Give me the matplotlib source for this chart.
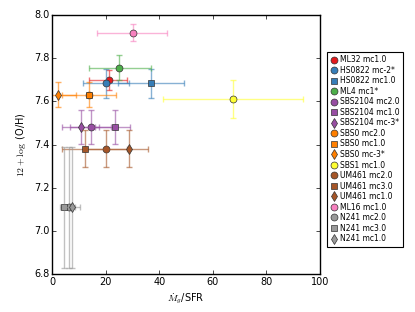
import numpy as np
import matplotlib
matplotlib.use("Agg")
import matplotlib.pyplot as plt

# ---------- data ----------
labels = ["ML32 mc1.0", "HS0822 mc-2*", "HS0822 mc1.0", "ML4 mc1*",
          "SBS2104 mc2.0", "SBS2104 mc1.0", "SBS2104 mc-3*",
          "SBS0 mc2.0", "SBS0 mc1.0", "SBS0 mc-3*", "SBS1 mc1.0",
          "UM461 mc2.0", "UM461 mc3.0", "UM461 mc1.0", "ML16 mc1.0",
          "N241 mc2.0", "N241 mc3.0", "N241 mc1.0"]
ratio = [21.1, 20.0, 36.9, 25.1, 14.4, 23.3, 10.6, 13.7, 13.7, 2.0,
         67.5, 19.9, 12.4, 28.8, 30.0, 6.1, 4.2, 7.3]
ratio_lo = [13.9, 11.4, 24.5, 13.9, 6.5, 16.0, 3.8, 5.5, 3.6, -2.0,
            41.2, 12.0, 3.6, 20.5, 16.8, 3.2, 2.7, 4.5]
ratio_hi = [28.0, 28.5, 49.3, 36.8, 22.0, 29.2, 17.5, 22.0, 23.8, 9.0,
            93.8, 28.0, 20.0, 35.9, 42.9, 8.5, 6.0, 10.2]
oh = [7.70, 7.683, 7.683, 7.756, 7.481, 7.481, 7.481, 7.63, 7.63, 7.63,
      7.609, 7.381, 7.381, 7.381, 7.918, 7.109, 7.109, 7.109]
oh_lo = [7.652, 7.614, 7.614, 7.699, 7.402, 7.402, 7.402, 7.572, 7.572, 7.572,
         7.521, 7.297, 7.297, 7.297, 7.88, 6.831, 6.831, 6.831]
oh_hi = [7.744, 7.75, 7.75, 7.813, 7.56, 7.56, 7.56, 7.69, 7.69, 7.688,
         7.697, 7.467, 7.467, 7.467, 7.958, 7.39, 7.39, 7.39]
colors = ["#e41a1c", "#377eb8", "#377eb8", "#4daf4a",
          "#984ea3", "#984ea3", "#984ea3",
          "#ff7f00", "#ff7f00", "#ff7f00", "#ffff33",
          "#a65628", "#a65628", "#a65628", "#f781bf",
          "#999999", "#999999", "#999999"]
markers = ["o", "o", "s", "o", "o", "s", "d", "o", "s", "d", "o",
           "o", "s", "d", "o", "o", "s", "d"]
# the SBS0 mc2.0 point is hidden under the square in the reference
show = [True] * len(labels)
show[7] = False

plt.style.use("classic")
plt.rcParams["font.size"] = 7
fig = plt.figure(figsize=(4.15, 3.12), dpi=100)
ax = fig.add_axes([0.126, 0.121, 0.645, 0.831])

for i in range(len(labels)):
    xe = [[ratio[i] - ratio_lo[i]], [ratio_hi[i] - ratio[i]]]
    ye = [[oh[i] - oh_lo[i]], [oh_hi[i] - oh[i]]]
    if show[i]:
        ax.errorbar([ratio[i]], [oh[i]], xerr=xe, yerr=ye, fmt="none",
                    ecolor=colors[i], alpha=0.6, elinewidth=1.0,
                    capsize=2, capthick=1.0)
    ax.plot([ratio[i]], [oh[i]], linestyle="none", marker=markers[i],
            markersize=5 if markers[i] != "d" else 5.5,
            markerfacecolor=colors[i], markeredgecolor="#333333",
            markeredgewidth=0.5, label=labels[i],
            alpha=1.0 if show[i] else 0.0)

ax.set_xlim(0, 100)
ax.set_ylim(6.8, 8.0)
ax.set_xticks([0, 20, 40, 60, 80, 100])
ax.set_yticks([6.8, 7.0, 7.2, 7.4, 7.6, 7.8, 8.0])
ax.set_xlabel(r"$\dot{M}_g$/SFR", fontsize=7, labelpad=3)
ax.set_ylabel(r"$12+\log$ (O/H)", fontsize=7, labelpad=4)
ax.tick_params(labelsize=7, length=3, pad=2)

handles, labs = ax.get_legend_handles_labels()
for h in handles:
    h.set_alpha(1.0)
leg = fig.legend(handles, labs, loc="upper left",
                 bbox_to_anchor=(0.788, 0.834), numpoints=1,
                 fontsize=5.5, frameon=True, handletextpad=0.4,
                 borderpad=0.45, labelspacing=0.2, handlelength=0.9,
                 borderaxespad=0.0)
leg.get_frame().set_linewidth(0.8)

fig.savefig("out.png", dpi=100)
